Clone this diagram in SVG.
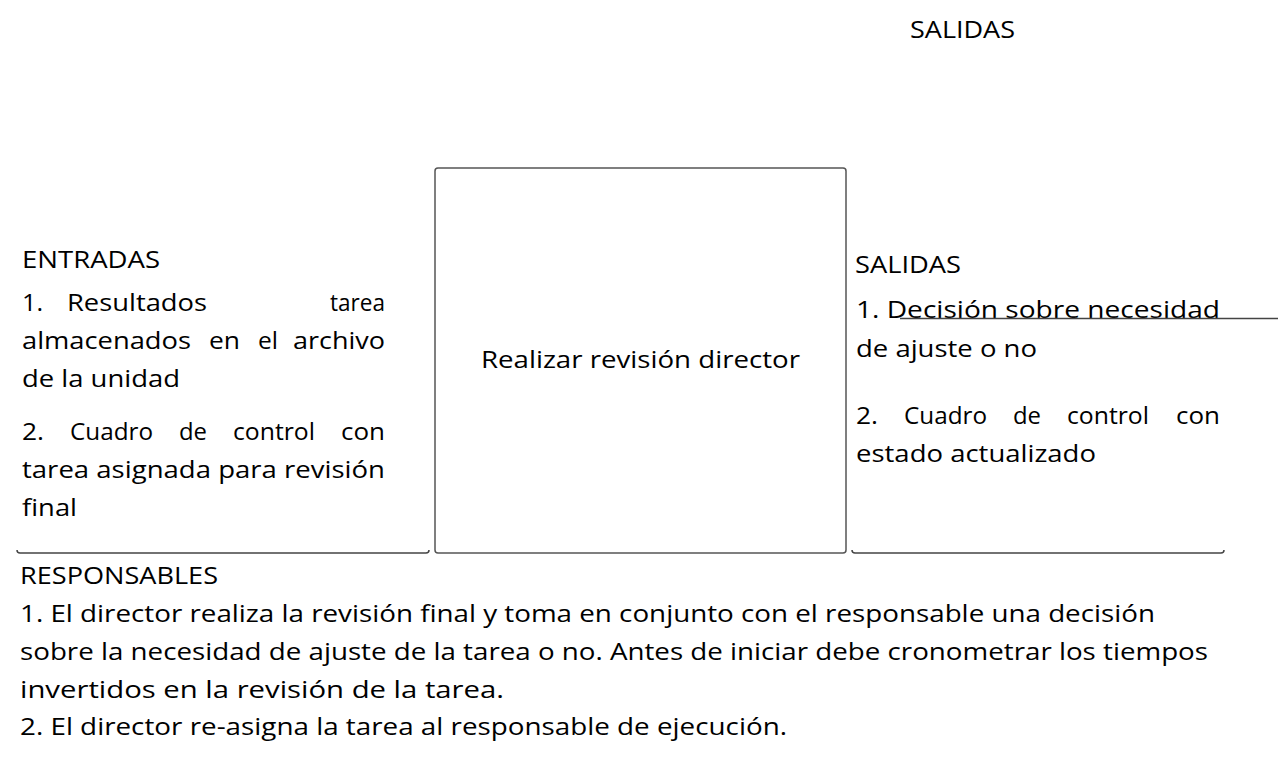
<svg xmlns="http://www.w3.org/2000/svg" width="1280" height="762" viewBox="0 0 1280 762">
<style>
text{font-family:"Open Sans","Noto Sans","Liberation Sans",sans-serif;font-size:24px;fill:#000}
.ln{stroke:#444;stroke-width:1.5;fill:none}
.box{stroke:#555;stroke-width:1.5;fill:#fff}
</style>
<rect width="1280" height="762" fill="#fff"/>
<g id="titulo-salidas">
<text x="910" y="38" textLength="105" lengthAdjust="spacingAndGlyphs">SALIDAS</text>
</g>
<g id="proceso">
<rect class="box" x="435" y="168" width="411" height="385" rx="3"/>
<text x="481" y="368" textLength="319" lengthAdjust="spacingAndGlyphs">Realizar revisión director</text>
</g>
<g id="entradas">
<text x="22" y="268" textLength="138" lengthAdjust="spacingAndGlyphs">ENTRADAS</text>
<text x="22" y="311" textLength="21" lengthAdjust="spacingAndGlyphs">1.</text>
<text x="67" y="311" textLength="140" lengthAdjust="spacingAndGlyphs">Resultados</text>
<text x="330" y="311" textLength="55" lengthAdjust="spacingAndGlyphs">tarea</text>
<text x="22" y="349" textLength="169" lengthAdjust="spacingAndGlyphs">almacenados</text>
<text x="209" y="349" textLength="31" lengthAdjust="spacingAndGlyphs">en</text>
<text x="258" y="349" textLength="20" lengthAdjust="spacingAndGlyphs">el</text>
<text x="293" y="349" textLength="92" lengthAdjust="spacingAndGlyphs">archivo</text>
<text x="22" y="387" textLength="158" lengthAdjust="spacingAndGlyphs">de la unidad</text>
<text x="22" y="440" textLength="22" lengthAdjust="spacingAndGlyphs">2.</text>
<text x="70" y="440" textLength="83" lengthAdjust="spacingAndGlyphs">Cuadro</text>
<text x="179" y="440" textLength="28" lengthAdjust="spacingAndGlyphs">de</text>
<text x="233" y="440" textLength="82" lengthAdjust="spacingAndGlyphs">control</text>
<text x="341" y="440" textLength="44" lengthAdjust="spacingAndGlyphs">con</text>
<text x="22" y="478" textLength="363" lengthAdjust="spacingAndGlyphs">tarea asignada para revisión</text>
<text x="22" y="516" textLength="55" lengthAdjust="spacingAndGlyphs">final</text>
</g>
<g id="salidas">
<text x="855" y="273" textLength="106" lengthAdjust="spacingAndGlyphs">SALIDAS</text>
<text x="856" y="318" textLength="364" lengthAdjust="spacingAndGlyphs">1. Decisión sobre necesidad</text>
<text x="856" y="357" textLength="181" lengthAdjust="spacingAndGlyphs">de ajuste o no</text>
<text x="856" y="424" textLength="22" lengthAdjust="spacingAndGlyphs">2.</text>
<text x="904" y="424" textLength="83" lengthAdjust="spacingAndGlyphs">Cuadro</text>
<text x="1013" y="424" textLength="28" lengthAdjust="spacingAndGlyphs">de</text>
<text x="1067" y="424" textLength="82" lengthAdjust="spacingAndGlyphs">control</text>
<text x="1176" y="424" textLength="44" lengthAdjust="spacingAndGlyphs">con</text>
<text x="856" y="462" textLength="240" lengthAdjust="spacingAndGlyphs">estado actualizado</text>
</g>
<g id="responsables">
<text x="20" y="584" textLength="198" lengthAdjust="spacingAndGlyphs">RESPONSABLES</text>
<text x="20" y="622" textLength="1135" lengthAdjust="spacingAndGlyphs">1. El director realiza la revisión final y toma en conjunto con el responsable una decisión</text>
<text x="20" y="660" textLength="1188" lengthAdjust="spacingAndGlyphs">sobre la necesidad de ajuste de la tarea o no. Antes de iniciar debe cronometrar los tiempos</text>
<text x="20" y="698" textLength="484" lengthAdjust="spacingAndGlyphs">invertidos en la revisión de la tarea.</text>
<text x="20" y="735" textLength="767" lengthAdjust="spacingAndGlyphs">2. El director re-asigna la tarea al responsable de ejecución.</text>
</g>
<g id="conectores">
<path class="ln" d="M17 550 Q17 553 20 553 L426 553 Q429 553 429 550"/>
<path class="ln" d="M852 550 Q852 553 855 553 L1221 553 Q1224 553 1224 550"/>
<path class="ln" d="M900 318.5 L1278 318.5" stroke="#777"/>
</g>
</svg>
